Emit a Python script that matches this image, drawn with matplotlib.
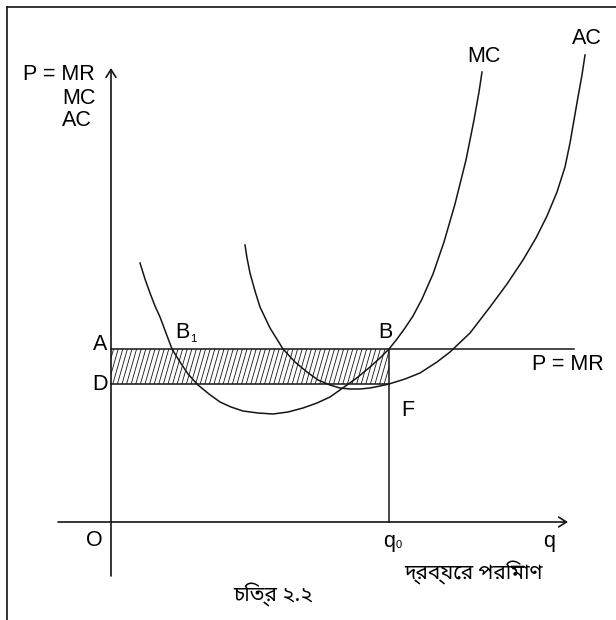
import matplotlib
matplotlib.use('Agg')
import matplotlib.pyplot as plt
from matplotlib import font_manager
from matplotlib.ft2font import FT2Font
from matplotlib.patches import Rectangle
from matplotlib.lines import Line2D
import numpy as np

# Số liệu, đơn vị tính từ gốc O (q sang phải, giá lên trên)
mc_q = [29, 34, 39, 44, 49, 55, 61, 69, 77, 87, 98, 109, 120, 132, 147, 162, 177, 192, 206, 219,
        236, 247, 259, 269, 278, 286, 294, 302, 311, 322, 333, 344, 355, 363, 368, 371]
mc_p = [259, 243, 229, 216, 205, 189, 173, 160, 148, 137, 128, 120, 115, 111, 109, 108, 110, 114, 119, 125,
        137, 145, 155, 164, 173, 183, 194, 206, 223, 248, 280, 318, 362, 402, 430, 450]

ac_q = [134, 136, 139, 144, 149, 159, 172, 184, 196, 207, 219, 229, 239, 249, 259, 269, 278, 294, 309, 326,
        339, 359, 379, 396, 412, 425, 436, 446, 454, 459, 463, 467, 471, 474]
ac_p = [277, 264, 249, 231, 215, 194, 173, 160, 150, 142, 137, 134, 133, 133, 134, 136, 138, 143, 149, 160,
        170, 189, 215, 238, 262, 284, 306, 330, 355, 379, 402, 425, 447, 467]

price_A = 173      # P = MR
price_D = 138      # AC tại q0
q0 = 278
mr_end = 463
x_axis = (-53, 457)
y_axis = (-54, 454)

ink = '#151515'


def find_bengali_font():
    found = []
    for path in font_manager.findSystemFonts():
        try:
            cmap = FT2Font(path).get_charmap()
        except Exception:
            continue
        if 0x09A6 in cmap and 0x09AA in cmap and 0x09E8 in cmap:
            found.append(path)
    if not found:
        return None
    for key in ('bengali', 'bangla', 'lohit'):
        for path in found:
            if key in path.lower():
                return path
    return found[0]


plt.rcParams['font.family'] = ['Liberation Sans', 'DejaVu Sans']

bn_path = find_bengali_font()
if bn_path:
    bn_font = font_manager.FontProperties(fname=bn_path)
else:
    bn_font = font_manager.FontProperties(family=['Noto Sans', 'DejaVu Sans'])

fig = plt.figure(figsize=(6.16, 6.2), dpi=100)
ax = fig.add_axes([0, 0, 1, 1])
ax.set_xlim(-111, 505)
ax.set_ylim(-98, 522)
ax.axis('off')

# khung ảnh (trên và trái)
fig.add_artist(Line2D([7 / 616, 1], [1 - 7 / 620] * 2, color=ink, lw=1.2))
fig.add_artist(Line2D([7 / 616] * 2, [0, 1 - 7 / 620], color=ink, lw=1.2))

# trục
arrow = dict(arrowstyle='->,head_length=0.35,head_width=0.22', color=ink, lw=1.2,
             shrinkA=0, shrinkB=0, mutation_scale=16)
ax.annotate('', xy=(x_axis[1], 0), xytext=(x_axis[0], 0), arrowprops=arrow)
ax.annotate('', xy=(0, y_axis[1]), xytext=(0, y_axis[0]), arrowprops=arrow)

# vùng gạch chéo ABFD
rect = Rectangle((0, price_D), q0, price_A - price_D, fill=False, lw=0)
ax.add_patch(rect)
for x0 in np.arange(-12, q0 + 4, 4.6):
    ln, = ax.plot([x0, x0 + 10], [price_D, price_A], color=ink, lw=0.6)
    ln.set_clip_path(rect)

ax.plot([0, mr_end], [price_A, price_A], color=ink, lw=1.1)
ax.plot([0, q0], [price_D, price_D], color=ink, lw=1.1)
ax.plot([q0, q0], [0, price_A], color=ink, lw=1.1)

ax.plot(mc_q, mc_p, color=ink, lw=1.1, solid_joinstyle='round')
ax.plot(ac_q, ac_p, color=ink, lw=1.1, solid_joinstyle='round')

fs = 15.5
sub = 8
ax.text(-88, 447, 'P = MR', fontsize=fs, ha='left', va='center')
ax.text(-49, 424, 'MC', fontsize=fs, ha='left', va='center')
ax.text(-49, 401, 'AC', fontsize=fs, ha='left', va='center')
ax.text(-11, 177, 'A', fontsize=fs, ha='center', va='center')
ax.text(-11, 138, 'D', fontsize=fs, ha='center', va='center')
ax.text(64, 190, 'B', fontsize=fs, ha='left', va='center')
ax.text(79, 183, '1', fontsize=sub, ha='left', va='center')
ax.text(274, 190, 'B', fontsize=fs, ha='center', va='center')
ax.text(297, 112, 'F', fontsize=fs, ha='center', va='center')
ax.text(457, 157, 'P = MR', fontsize=fs, ha='center', va='center')
ax.text(373, 465, 'MC', fontsize=fs, ha='center', va='center')
ax.text(476, 484, 'AC', fontsize=fs, ha='center', va='center')
ax.text(-17, -19, 'O', fontsize=fs, ha='center', va='center')
ax.text(272, -20, 'q', fontsize=fs, ha='left', va='center')
ax.text(285, -23, '0', fontsize=sub, ha='left', va='center')
ax.text(438, -20, 'q', fontsize=fs, ha='center', va='center')

# chữ Bengal: thu nhỏ cho vừa bề rộng như ảnh gốc
fig.canvas.draw()
renderer = fig.canvas.get_renderer()
for s, x, y, width in [('দ্রব্যের পরিমাণ', 362, -51, 142), ('চিত্র ২.২', 162, -73, 92)]:
    t = ax.text(x, y, s, fontproperties=bn_font, fontsize=15, ha='center', va='center')
    w = t.get_window_extent(renderer).width
    if w > width:
        t.set_fontsize(max(9, 15 * width / w))

fig.savefig('out.png', dpi=100)
